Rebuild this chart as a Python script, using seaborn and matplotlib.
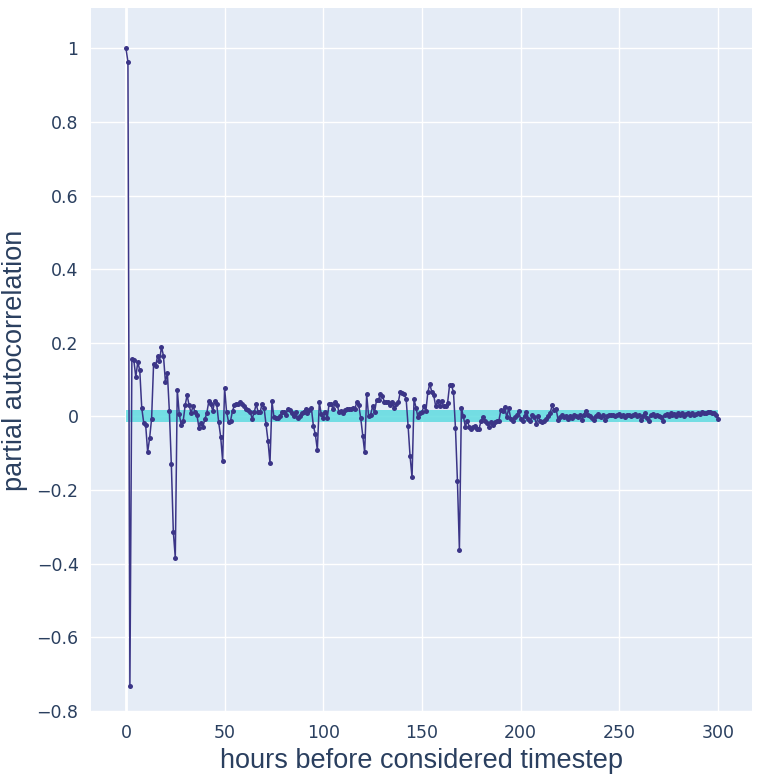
import numpy as np
import pandas as pd
import seaborn as sns
import matplotlib
matplotlib.use('Agg')
import matplotlib.pyplot as plt

# partial autocorrelation, lag 0..300
pacf_0_26 = [1.0, 0.963, -0.733, 0.156, 0.152, 0.107, 0.148, 0.125, 0.023, -0.017,
             -0.024, -0.097, -0.059, -0.006, 0.142, 0.136, 0.163, 0.150, 0.189, 0.165,
             0.094, 0.117, 0.014, -0.130, -0.313, -0.384, 0.073]
pacf_27_50 = [0.007, -0.024, -0.013, 0.030, 0.058, 0.030, 0.010, 0.027, 0.012, 0.003,
              -0.031, -0.019, -0.028, -0.008, 0.010, 0.041, 0.033, 0.015, 0.042, 0.033,
              -0.016, -0.055, -0.121, 0.078]
pacf_51_74 = [0.012, -0.015, -0.012, 0.015, 0.030, 0.033, 0.033, 0.039, 0.033, 0.027,
              0.019, 0.018, 0.011, -0.006, 0.011, 0.033, 0.012, 0.011, 0.035, 0.023,
              -0.022, -0.067, -0.127, 0.041]
pacf_75_98 = [-0.002, -0.004, -0.004, 0.000, 0.012, 0.012, 0.003, 0.019, 0.018, 0.009,
              0.000, 0.012, -0.004, 0.000, 0.008, 0.013, 0.019, 0.010, 0.017, 0.022,
              -0.026, -0.049, -0.091, 0.038]
pacf_99_122 = [0.006, -0.005, 0.012, -0.005, 0.035, 0.035, 0.019, 0.038, 0.031, 0.012,
               0.015, 0.008, 0.016, 0.020, 0.020, 0.020, 0.022, 0.020, 0.038, 0.030,
               -0.005, -0.052, -0.098, 0.060]
pacf_123_146 = [0.000, 0.005, 0.027, 0.011, 0.044, 0.045, 0.062, 0.055, 0.039, 0.038,
                0.038, 0.030, 0.038, 0.022, 0.033, 0.038, 0.065, 0.063, 0.060, 0.048,
                -0.026, -0.108, -0.166, 0.047]
pacf_147_170 = [0.024, -0.003, 0.009, 0.012, 0.027, 0.014, 0.065, 0.089, 0.066, 0.057,
                0.027, 0.041, 0.027, 0.041, 0.027, 0.027, 0.036, 0.084, 0.084, 0.066,
                -0.031, -0.175, -0.362, 0.023]
pacf_171_224 = [0.000, -0.028, -0.012, -0.028, -0.033, -0.028, -0.025, -0.033, -0.033, -0.012,
                -0.003, -0.012, -0.018, -0.028, -0.016, -0.023, -0.016, -0.012, -0.012, 0.017,
                0.014, 0.026, -0.003, 0.023, -0.006, -0.012, -0.003, 0.003, 0.014, -0.006,
                -0.012, 0.001, 0.012, -0.006, -0.012, 0.005, -0.003, -0.020, 0.000, -0.012,
                -0.014, -0.012, -0.006, 0.000, 0.009, 0.030, 0.017, 0.021, -0.009, -0.003,
                0.003, -0.003, 0.001, -0.006]
pacf_225_300 = [0.002, -0.004, 0.005, 0.002, -0.003, 0.003, -0.011, 0.004, 0.015, 0.003,
                0.000, -0.004, -0.010, 0.002, 0.006, 0.001, -0.002, 0.004, -0.010, 0.002,
                0.004, 0.003, 0.005, 0.002, 0.004, 0.006, 0.001, 0.004, -0.001, 0.003,
                0.005, 0.000, 0.003, 0.006, 0.002, 0.004, -0.010, 0.002, 0.010, -0.004,
                -0.013, 0.004, 0.007, 0.001, 0.005, 0.002, -0.003, -0.012, 0.003, 0.006,
                0.001, 0.008, 0.004, 0.007, 0.002, 0.009, 0.003, 0.008, 0.002, 0.006,
                0.009, 0.004, 0.008, 0.003, 0.007, 0.010, 0.006, 0.012, 0.010, 0.008,
                0.011, 0.012, 0.009, 0.010, 0.004, -0.007]
conf_level = 0.016

pacf = (pacf_0_26 + pacf_27_50 + pacf_51_74 + pacf_75_98 + pacf_99_122
        + pacf_123_146 + pacf_147_170 + pacf_171_224 + pacf_225_300)
lags = list(range(len(pacf)))
df = pd.DataFrame({'lag': lags, 'pacf': pacf})

sns.set_style('darkgrid', {'axes.facecolor': '#E5ECF6', 'grid.color': 'white',
                           'axes.edgecolor': '#E5ECF6'})
plt.rcParams['font.family'] = ['DejaVu Sans']

fig = plt.figure(figsize=(7.65, 7.76), dpi=100)
ax = fig.add_axes([0.119, 0.0825, 0.864, 0.907])

ax.fill_between(df['lag'], -conf_level, conf_level, color='#5fdbe0', alpha=0.85,
                linewidth=0, zorder=2)
sns.lineplot(data=df, x='lag', y='pacf', ax=ax, color='#3b3587', linewidth=1.1,
             marker='o', markersize=3.6, markeredgewidth=0, zorder=3)

ax.set_xlim(-17.7, 317.3)
ax.set_ylim(-0.803, 1.109)
ax.set_xticks([0, 50, 100, 150, 200, 250, 300])
ax.set_yticks([-0.8, -0.6, -0.4, -0.2, 0, 0.2, 0.4, 0.6, 0.8, 1],
              ['\u22120.8', '\u22120.6', '\u22120.4', '\u22120.2', '0', '0.2', '0.4', '0.6', '0.8', '1'])
ax.grid(True, color='white', linewidth=1.0)
ax.axvline(0, color='white', linewidth=2, zorder=1)
ax.tick_params(length=0, labelsize=12.5, labelcolor='#2a3f5f', pad=9)
for s in ax.spines.values():
    s.set_visible(False)

ax.set_xlabel('hours before considered timestep', fontsize=19.5, color='#2a3f5f',
              family='Liberation Sans', labelpad=4)
ax.set_ylabel('partial autocorrelation', fontsize=19.5, color='#2a3f5f',
              family='Liberation Sans', labelpad=6)

fig.savefig('out.png', dpi=100, facecolor='white')
